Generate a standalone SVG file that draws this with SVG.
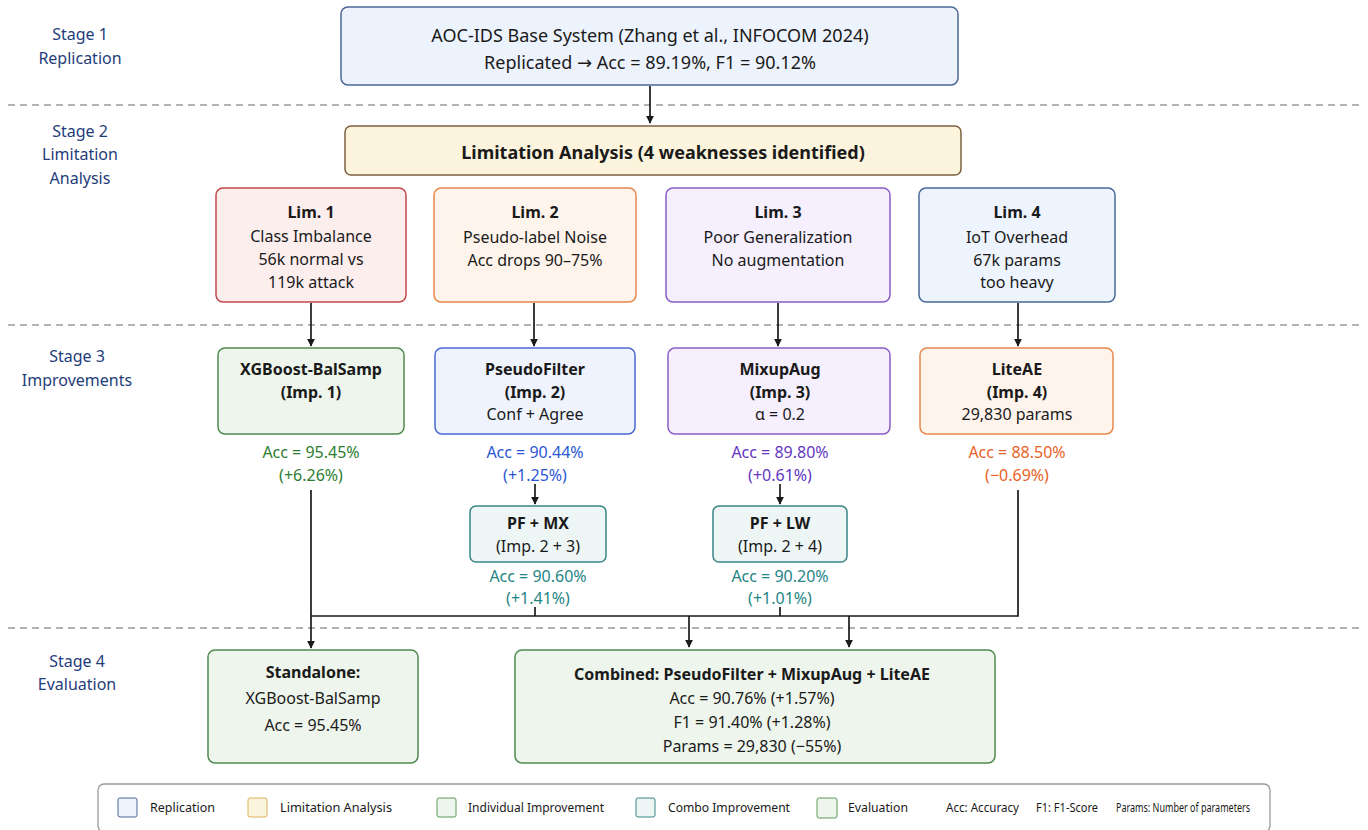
<svg xmlns="http://www.w3.org/2000/svg" width="1368" height="830" viewBox="0 0 1368 830">
<style>
text{font-family:"Noto Sans","Open Sans","DejaVu Sans",sans-serif;fill:#1a1a1a;text-anchor:middle}
.stage{fill:#1f3d7a;font-size:16px}
.t{font-size:16px}
.b{font-size:16px;font-weight:bold}
.big{font-size:18px}
.sep{stroke:#999;stroke-width:1.3;stroke-dasharray:7,5;fill:none}
.conn{stroke:#1a1a1a;stroke-width:1.7;fill:none}
.lg{font-size:13px;text-anchor:start}
.green{fill:#2e7d32}.blue{fill:#2b57d6}.purple{fill:#6236c0}.orange{fill:#ea5f26}.teal{fill:#1f8585}
</style>
<defs>
<marker id="ah" viewBox="0 0 10 10" refX="9" refY="5" markerWidth="8" markerHeight="8" orient="auto" markerUnits="userSpaceOnUse"><path d="M0,0 L10,5 L0,10 z" fill="#1a1a1a"/></marker>
</defs>
<rect width="1368" height="830" fill="#ffffff"/>

<g id="stages">
<text class="stage" x="80" y="40">Stage 1</text>
<text class="stage" x="80" y="64">Replication</text>
<text class="stage" x="80" y="137">Stage 2</text>
<text class="stage" x="80" y="160">Limitation</text>
<text class="stage" x="80" y="184">Analysis</text>
<text class="stage" x="77" y="362">Stage 3</text>
<text class="stage" x="77" y="386">Improvements</text>
<text class="stage" x="77" y="667">Stage 4</text>
<text class="stage" x="77" y="690">Evaluation</text>
</g>

<g id="separators">
<line class="sep" x1="8" y1="105" x2="1360" y2="105"/>
<line class="sep" x1="8" y1="325" x2="1360" y2="325"/>
<line class="sep" x1="8" y1="628" x2="1360" y2="628"/>
</g>

<g id="connectors">
<line class="conn" x1="650" y1="86" x2="650" y2="123" marker-end="url(#ah)"/>
<line class="conn" x1="311" y1="303" x2="311" y2="346" marker-end="url(#ah)"/>
<line class="conn" x1="534" y1="303" x2="534" y2="346" marker-end="url(#ah)"/>
<line class="conn" x1="778" y1="303" x2="778" y2="346" marker-end="url(#ah)"/>
<line class="conn" x1="1018" y1="303" x2="1018" y2="346" marker-end="url(#ah)"/>
<line class="conn" x1="535" y1="484" x2="535" y2="504" marker-end="url(#ah)"/>
<line class="conn" x1="780" y1="484" x2="780" y2="504" marker-end="url(#ah)"/>
<line class="conn" x1="311" y1="490" x2="311" y2="648" marker-end="url(#ah)"/>
<polyline class="conn" points="311,616 1018,616 1018,490"/>
<line class="conn" x1="535" y1="607" x2="535" y2="616"/>
<line class="conn" x1="780" y1="607" x2="780" y2="616"/>
<line class="conn" x1="689" y1="616" x2="689" y2="647" marker-end="url(#ah)"/>
<line class="conn" x1="849" y1="616" x2="849" y2="647" marker-end="url(#ah)"/>
</g>

<g id="base">
<rect x="341" y="7" width="617" height="78" rx="7" fill="#edf3fd" stroke="#4a6797" stroke-width="1.5"/>
<text class="big" x="650" y="42">AOC-IDS Base System (Zhang et al., INFOCOM 2024)</text>
<text class="big" x="650" y="69">Replicated → Acc = 89.19%, F1 = 90.12%</text>
</g>

<g id="limitation">
<rect x="345" y="126" width="616" height="49" rx="6" fill="#fdf4dd" stroke="#7e6040" stroke-width="1.5"/>
<text class="big" x="663" y="159" font-weight="bold">Limitation Analysis (4 weaknesses identified)</text>
</g>

<g id="lim1">
<rect x="216" y="188" width="190" height="114" rx="7" fill="#fdeeee" stroke="#c2474d" stroke-width="1.5"/>
<text class="b" x="311" y="218">Lim. 1</text>
<text class="t" x="311" y="242">Class Imbalance</text>
<text class="t" x="311" y="265">56k normal vs</text>
<text class="t" x="311" y="288">119k attack</text>
</g>
<g id="lim2">
<rect x="434" y="188" width="202" height="114" rx="7" fill="#fef4ec" stroke="#e8874b" stroke-width="1.5"/>
<text class="b" x="535" y="218">Lim. 2</text>
<text class="t" x="535" y="243">Pseudo-label Noise</text>
<text class="t" x="535" y="266">Acc drops 90–75%</text>
</g>
<g id="lim3">
<rect x="666" y="188" width="224" height="114" rx="7" fill="#f6effd" stroke="#8a5cc6" stroke-width="1.5"/>
<text class="b" x="778" y="218">Lim. 3</text>
<text class="t" x="778" y="243">Poor Generalization</text>
<text class="t" x="778" y="266">No augmentation</text>
</g>
<g id="lim4">
<rect x="919" y="188" width="196" height="114" rx="7" fill="#eef4fd" stroke="#4a6797" stroke-width="1.5"/>
<text class="b" x="1017" y="218">Lim. 4</text>
<text class="t" x="1017" y="243">IoT Overhead</text>
<text class="t" x="1017" y="266">67k params</text>
<text class="t" x="1017" y="288">too heavy</text>
</g>

<g id="imp1">
<rect x="218" y="348" width="186" height="86" rx="7" fill="#eef5ec" stroke="#4f8a4f" stroke-width="1.5"/>
<text class="b" x="311" y="375">XGBoost-BalSamp</text>
<text class="b" x="311" y="398">(Imp. 1)</text>
<text class="t green" x="311" y="458">Acc = 95.45%</text>
<text class="t green" x="311" y="481">(+6.26%)</text>
</g>
<g id="imp2">
<rect x="435" y="348" width="200" height="86" rx="7" fill="#eef3fd" stroke="#4a6ad2" stroke-width="1.5"/>
<text class="b" x="535" y="375">PseudoFilter</text>
<text class="b" x="535" y="398">(Imp. 2)</text>
<text class="t" x="535" y="420">Conf + Agree</text>
<text class="t blue" x="535" y="458">Acc = 90.44%</text>
<text class="t blue" x="535" y="481">(+1.25%)</text>
</g>
<g id="imp3">
<rect x="668" y="348" width="222" height="86" rx="7" fill="#f6effd" stroke="#8a5cc6" stroke-width="1.5"/>
<text class="b" x="780" y="375">MixupAug</text>
<text class="b" x="780" y="398">(Imp. 3)</text>
<text class="t" x="780" y="420">α = 0.2</text>
<text class="t purple" x="780" y="458">Acc = 89.80%</text>
<text class="t purple" x="780" y="481">(+0.61%)</text>
</g>
<g id="imp4">
<rect x="920" y="348" width="193" height="86" rx="7" fill="#fef4ec" stroke="#e8874b" stroke-width="1.5"/>
<text class="b" x="1017" y="375">LiteAE</text>
<text class="b" x="1017" y="398">(Imp. 4)</text>
<text class="t" x="1017" y="420">29,830 params</text>
<text class="t orange" x="1017" y="458">Acc = 88.50%</text>
<text class="t orange" x="1017" y="481">(−0.69%)</text>
</g>

<g id="pfmx">
<rect x="470" y="506" width="136" height="56" rx="6" fill="#eef6f5" stroke="#3a8585" stroke-width="1.5"/>
<text class="b" x="538" y="529">PF + MX</text>
<text class="t" x="538" y="552">(Imp. 2 + 3)</text>
<text class="t teal" x="538" y="582">Acc = 90.60%</text>
<text class="t teal" x="538" y="604">(+1.41%)</text>
</g>
<g id="pflw">
<rect x="713" y="506" width="134" height="56" rx="6" fill="#eef6f5" stroke="#3a8585" stroke-width="1.5"/>
<text class="b" x="780" y="529">PF + LW</text>
<text class="t" x="780" y="552">(Imp. 2 + 4)</text>
<text class="t teal" x="780" y="582">Acc = 90.20%</text>
<text class="t teal" x="780" y="604">(+1.01%)</text>
</g>

<g id="standalone">
<rect x="208" y="650" width="210" height="113" rx="7" fill="#eef5ec" stroke="#4f8a4f" stroke-width="1.5"/>
<text class="b" x="313" y="678">Standalone:</text>
<text class="t" x="313" y="704">XGBoost-BalSamp</text>
<text class="t" x="313" y="731">Acc = 95.45%</text>
</g>
<g id="combined">
<rect x="515" y="650" width="480" height="113" rx="7" fill="#eef5ec" stroke="#4f8a4f" stroke-width="1.5"/>
<text class="b" x="752" y="680">Combined: PseudoFilter + MixupAug + LiteAE</text>
<text class="t" x="752" y="704">Acc = 90.76% (+1.57%)</text>
<text class="t" x="752" y="728">F1 = 91.40% (+1.28%)</text>
<text class="t" x="752" y="752">Params = 29,830 (−55%)</text>
</g>

<g id="legend">
<rect x="98" y="784" width="1172" height="48" rx="6" fill="#ffffff" stroke="#9a9a9a" stroke-width="1.3"/>
<rect x="118" y="798" width="19" height="19" rx="2" fill="#eef3fd" stroke="#4a6797"/>
<text class="lg" x="150" y="812" textLength="65" lengthAdjust="spacingAndGlyphs">Replication</text>
<rect x="248" y="798" width="19" height="19" rx="2" fill="#fdf4dd" stroke="#e0b05a"/>
<text class="lg" x="280" y="812" textLength="112" lengthAdjust="spacingAndGlyphs">Limitation Analysis</text>
<rect x="437" y="798" width="19" height="19" rx="2" fill="#eef5ec" stroke="#5a9a5a"/>
<text class="lg" x="468" y="812" textLength="136" lengthAdjust="spacingAndGlyphs">Individual Improvement</text>
<rect x="636" y="798" width="19" height="19" rx="2" fill="#eef6f5" stroke="#3a8585"/>
<text class="lg" x="668" y="812" textLength="122" lengthAdjust="spacingAndGlyphs">Combo Improvement</text>
<rect x="817" y="798" width="20" height="20" rx="2" fill="#eef5ec" stroke="#5a9a5a"/>
<text class="lg" x="848" y="812" textLength="60" lengthAdjust="spacingAndGlyphs">Evaluation</text>
<text class="lg" x="946" y="812" font-size="12.5" textLength="73" lengthAdjust="spacingAndGlyphs">Acc: Accuracy</text>
<text class="lg" x="1036" y="812" font-size="12" textLength="62" lengthAdjust="spacingAndGlyphs">F1: F1-Score</text>
<text class="lg" x="1116" y="812" font-size="11.5" textLength="134" lengthAdjust="spacingAndGlyphs">Params: Number of parameters</text>
</g>
</svg>
